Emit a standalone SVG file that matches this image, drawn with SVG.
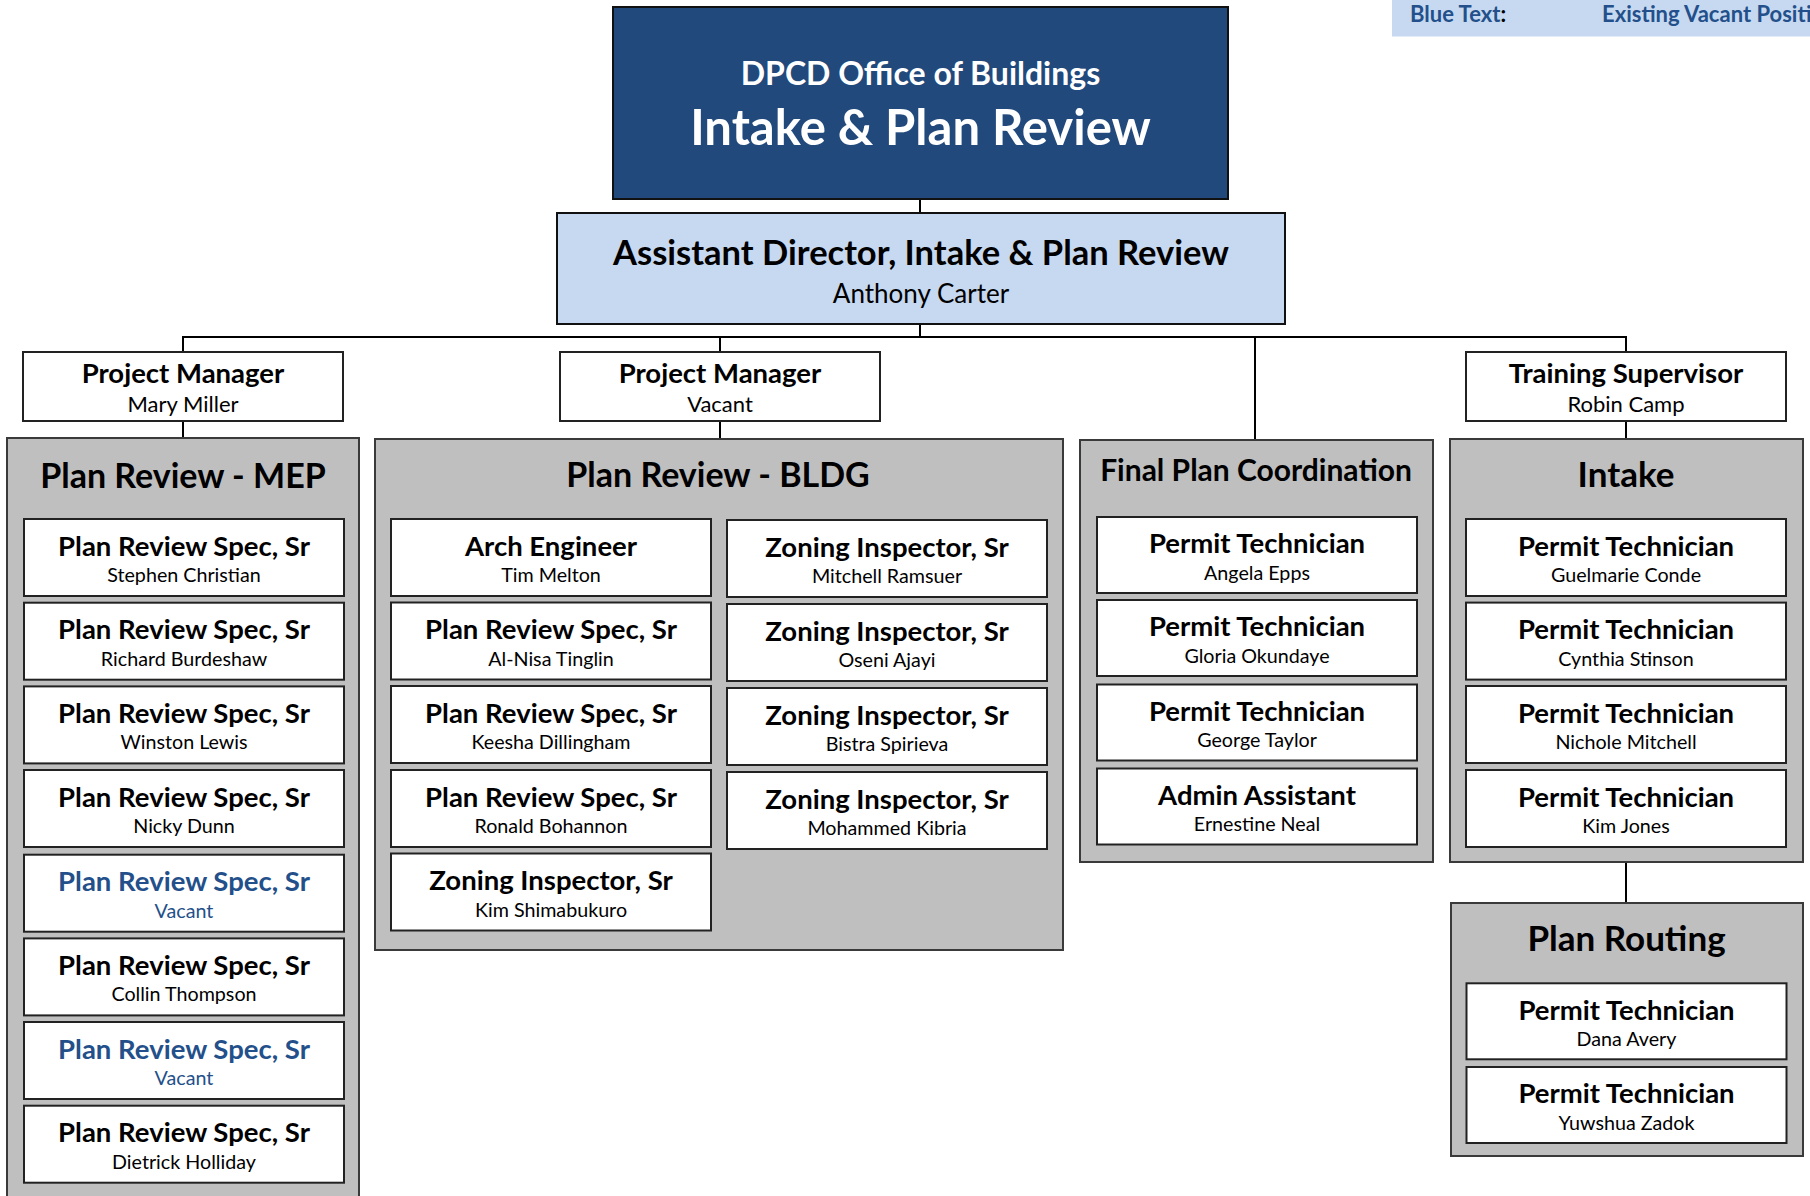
<svg xmlns="http://www.w3.org/2000/svg" width="1810" height="1196" viewBox="0 0 1810 1196">
  <style>
    text { font-family: Lato, "Open Sans", "Liberation Sans", sans-serif; text-anchor: middle; }
    .panel { fill: #bfbfbf; stroke: #3a3a3a; stroke-width: 2; }
    .card { fill: #ffffff; stroke: #222222; stroke-width: 2; }
    .t { font-size: 27.5px; font-weight: 700; fill: #000; }
    .n { font-size: 19.7px; font-weight: 400; fill: #000; }
    .pn { font-size: 22px; font-weight: 400; fill: #000; }
    .ph { font-size: 34px; font-weight: 700; fill: #000; }
    .vac { fill: #23508a; }
    .wire { stroke: #000; stroke-width: 2; fill: none; }
  </style>

  <!-- legend strip, top right -->
  <g id="legend">
    <rect x="1392" y="-2" width="420" height="38.5" fill="#c6d9f1"/>
    <text x="1410" y="22" style="text-anchor:start;font-size:22px;font-weight:700" fill="#23508a">Blue Text<tspan fill="#000">:</tspan></text>
    <text x="1602" y="22" style="text-anchor:start;font-size:22px;font-weight:700" fill="#23508a">Existing Vacant Positions</text>
  </g>

  <!-- reporting lines -->
  <g id="connectors">
    <line class="wire" x1="920" y1="199" x2="920" y2="213"/>
    <line class="wire" x1="920" y1="324" x2="920" y2="337"/>
    <line class="wire" x1="182" y1="337" x2="1627" y2="337"/>
    <line class="wire" x1="183" y1="337" x2="183" y2="352"/>
    <line class="wire" x1="720" y1="337" x2="720" y2="352"/>
    <line class="wire" x1="1255" y1="337" x2="1255" y2="440"/>
    <line class="wire" x1="1626" y1="337" x2="1626" y2="352"/>
    <line class="wire" x1="183" y1="421" x2="183" y2="438"/>
    <line class="wire" x1="720" y1="421" x2="720" y2="439"/>
    <line class="wire" x1="1626" y1="421" x2="1626" y2="439"/>
    <line class="wire" x1="1626" y1="862" x2="1626" y2="903"/>
  </g>

  <!-- department heading -->
  <g id="office">
    <rect x="613" y="7" width="615" height="192" fill="#21497c" stroke="#111" stroke-width="2"/>
    <text x="920.5" y="85" style="font-size:32px;font-weight:700" fill="#fff">DPCD Office of Buildings</text>
    <text x="920.5" y="145" style="font-size:49px;font-weight:700" fill="#fff">Intake &amp; Plan Review</text>
  </g>

  <g id="assistant-director">
    <rect x="557" y="213" width="728" height="111" fill="#c6d9f1" stroke="#111" stroke-width="2"/>
    <text x="921" y="264.5" style="font-size:34.5px;font-weight:700">Assistant Director, Intake &amp; Plan Review</text>
    <text x="921" y="303" style="font-size:26px">Anthony Carter</text>
  </g>

  <!-- supervisors -->
  <g id="pm-miller">
    <rect class="card" x="23" y="352" width="320" height="69"/>
    <text class="t" x="183" y="383">Project Manager</text>
    <text class="pn" x="183" y="412">Mary Miller</text>
  </g>
  <g id="pm-vacant">
    <rect class="card" x="560" y="352" width="320" height="69"/>
    <text class="t" x="720" y="383">Project Manager</text>
    <text class="pn" x="720" y="412">Vacant</text>
  </g>
  <g id="training-supervisor">
    <rect class="card" x="1466" y="352" width="320" height="69"/>
    <text class="t" x="1626" y="383">Training Supervisor</text>
    <text class="pn" x="1626" y="412">Robin Camp</text>
  </g>

  <!-- Plan Review - MEP -->
  <g id="plan-review-mep">
    <rect class="panel" x="7" y="438" width="352" height="780"/>
    <text class="ph" x="183" y="488">Plan Review - MEP</text>
    <g id="mep-1"><rect class="card" x="24" y="519" width="320" height="77"/><text class="t" x="184" y="555.5">Plan Review Spec, Sr</text><text class="n" x="184" y="582">Stephen Christian</text></g>
    <g id="mep-2"><rect class="card" x="24" y="602.7" width="320" height="77"/><text class="t" x="184" y="639.2">Plan Review Spec, Sr</text><text class="n" x="184" y="665.7">Richard Burdeshaw</text></g>
    <g id="mep-3"><rect class="card" x="24" y="686.4" width="320" height="77"/><text class="t" x="184" y="722.9">Plan Review Spec, Sr</text><text class="n" x="184" y="749.4">Winston Lewis</text></g>
    <g id="mep-4"><rect class="card" x="24" y="770" width="320" height="77"/><text class="t" x="184" y="806.5">Plan Review Spec, Sr</text><text class="n" x="184" y="833">Nicky Dunn</text></g>
    <g id="mep-5"><rect class="card" x="24" y="854.7" width="320" height="77"/><text class="t vac" x="184" y="891.2">Plan Review Spec, Sr</text><text class="n vac" x="184" y="917.7">Vacant</text></g>
    <g id="mep-6"><rect class="card" x="24" y="938.4" width="320" height="77"/><text class="t" x="184" y="974.9">Plan Review Spec, Sr</text><text class="n" x="184" y="1001.4">Collin Thompson</text></g>
    <g id="mep-7"><rect class="card" x="24" y="1022" width="320" height="77"/><text class="t vac" x="184" y="1058.5">Plan Review Spec, Sr</text><text class="n vac" x="184" y="1085">Vacant</text></g>
    <g id="mep-8"><rect class="card" x="24" y="1105.7" width="320" height="77"/><text class="t" x="184" y="1142.2">Plan Review Spec, Sr</text><text class="n" x="184" y="1168.7">Dietrick Holliday</text></g>
  </g>

  <!-- Plan Review - BLDG -->
  <g id="plan-review-bldg">
    <rect class="panel" x="375" y="439" width="688" height="511"/>
    <text class="ph" x="718" y="487">Plan Review - BLDG</text>
    <g id="bldg-l1"><rect class="card" x="391" y="519" width="320" height="77"/><text class="t" x="551" y="555.5">Arch Engineer</text><text class="n" x="551" y="582">Tim Melton</text></g>
    <g id="bldg-l2"><rect class="card" x="391" y="602.5" width="320" height="77"/><text class="t" x="551" y="639">Plan Review Spec, Sr</text><text class="n" x="551" y="665.5">Al-Nisa Tinglin</text></g>
    <g id="bldg-l3"><rect class="card" x="391" y="686" width="320" height="77"/><text class="t" x="551" y="722.5">Plan Review Spec, Sr</text><text class="n" x="551" y="749">Keesha Dillingham</text></g>
    <g id="bldg-l4"><rect class="card" x="391" y="770" width="320" height="77"/><text class="t" x="551" y="806.5">Plan Review Spec, Sr</text><text class="n" x="551" y="833">Ronald Bohannon</text></g>
    <g id="bldg-l5"><rect class="card" x="391" y="853.5" width="320" height="77"/><text class="t" x="551" y="890">Zoning Inspector, Sr</text><text class="n" x="551" y="916.5">Kim Shimabukuro</text></g>
    <g id="bldg-r1"><rect class="card" x="727" y="520" width="320" height="77"/><text class="t" x="887" y="556.5">Zoning Inspector, Sr</text><text class="n" x="887" y="583">Mitchell Ramsuer</text></g>
    <g id="bldg-r2"><rect class="card" x="727" y="604" width="320" height="77"/><text class="t" x="887" y="640.5">Zoning Inspector, Sr</text><text class="n" x="887" y="667">Oseni Ajayi</text></g>
    <g id="bldg-r3"><rect class="card" x="727" y="688" width="320" height="77"/><text class="t" x="887" y="724.5">Zoning Inspector, Sr</text><text class="n" x="887" y="751">Bistra Spirieva</text></g>
    <g id="bldg-r4"><rect class="card" x="727" y="772" width="320" height="77"/><text class="t" x="887" y="808.5">Zoning Inspector, Sr</text><text class="n" x="887" y="835">Mohammed Kibria</text></g>
  </g>

  <!-- Final Plan Coordination -->
  <g id="final-plan-coordination">
    <rect class="panel" x="1080" y="440" width="353" height="422"/>
    <text class="ph" x="1256" y="480.5" style="font-size:30px">Final Plan Coordination</text>
    <g id="fpc-1"><rect class="card" x="1097" y="517" width="320" height="76"/><text class="t" x="1257" y="553">Permit Technician</text><text class="n" x="1257" y="579.5">Angela Epps</text></g>
    <g id="fpc-2"><rect class="card" x="1097" y="600" width="320" height="76"/><text class="t" x="1257" y="636">Permit Technician</text><text class="n" x="1257" y="662.5">Gloria Okundaye</text></g>
    <g id="fpc-3"><rect class="card" x="1097" y="684.5" width="320" height="76"/><text class="t" x="1257" y="720.5">Permit Technician</text><text class="n" x="1257" y="747">George Taylor</text></g>
    <g id="fpc-4"><rect class="card" x="1097" y="768.5" width="320" height="76"/><text class="t" x="1257" y="804.5">Admin Assistant</text><text class="n" x="1257" y="831">Ernestine Neal</text></g>
  </g>

  <!-- Intake -->
  <g id="intake">
    <rect class="panel" x="1450" y="439" width="353" height="423"/>
    <text class="ph" x="1626" y="486.5" style="font-size:35px">Intake</text>
    <g id="intake-1"><rect class="card" x="1466" y="519" width="320" height="77"/><text class="t" x="1626" y="555.5">Permit Technician</text><text class="n" x="1626" y="582">Guelmarie Conde</text></g>
    <g id="intake-2"><rect class="card" x="1466" y="602.6" width="320" height="77"/><text class="t" x="1626" y="639.1">Permit Technician</text><text class="n" x="1626" y="665.6">Cynthia Stinson</text></g>
    <g id="intake-3"><rect class="card" x="1466" y="686" width="320" height="77"/><text class="t" x="1626" y="722.5">Permit Technician</text><text class="n" x="1626" y="749">Nichole Mitchell</text></g>
    <g id="intake-4"><rect class="card" x="1466" y="770" width="320" height="77"/><text class="t" x="1626" y="806.5">Permit Technician</text><text class="n" x="1626" y="833">Kim Jones</text></g>
  </g>

  <!-- Plan Routing -->
  <g id="plan-routing">
    <rect class="panel" x="1451" y="903" width="352" height="253"/>
    <text class="ph" x="1626.5" y="951" style="font-size:35px">Plan Routing</text>
    <g id="routing-1"><rect class="card" x="1466.5" y="983.3" width="320" height="76"/><text class="t" x="1626.5" y="1019.5">Permit Technician</text><text class="n" x="1626.5" y="1046">Dana Avery</text></g>
    <g id="routing-2"><rect class="card" x="1466.5" y="1067" width="320" height="76"/><text class="t" x="1626.5" y="1103.2">Permit Technician</text><text class="n" x="1626.5" y="1129.7">Yuwshua Zadok</text></g>
  </g>
</svg>
